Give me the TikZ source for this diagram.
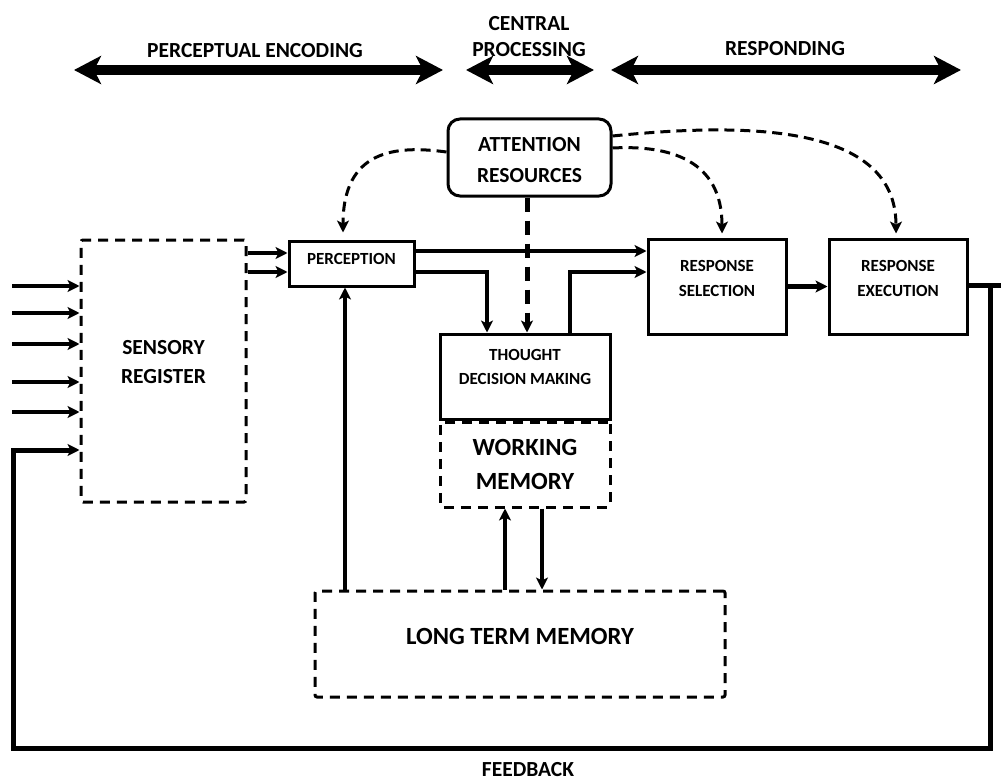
\documentclass[tikz,border=0pt]{standalone}
\usepackage{fontspec}
\setmainfont{Carlito}
\usetikzlibrary{arrows.meta}
\begin{document}
\begin{tikzpicture}[x=1pt,y=-1pt,
  every node/.style={font=\bfseries, inner sep=0pt},
  box/.style={draw, line width=3pt, inner sep=0pt},
  dbox/.style={draw, line width=3pt, dash pattern=on 10pt off 7pt, rounded corners=2pt, inner sep=0pt},
  tip/.style={-{Stealth[length=12pt,width=12pt,inset=3pt]}},
  flow/.style={line width=4pt, tip},
  thick flow/.style={line width=5pt, tip},
  attn/.style={line width=3pt, dash pattern=on 10pt off 6pt, tip},
  attnv/.style={line width=5pt, dash pattern=on 14pt off 9pt, tip},
  phase/.style={line width=10pt,
    {Stealth[length=27pt,width=28pt,inset=7pt]}-{Stealth[length=27pt,width=28pt,inset=7pt]}},
]
\useasboundingbox (0,0) rectangle (1001,781);

% stage arrows and headings
\coordinate (pe1) at (74,70);  \coordinate (pe2) at (443,70);
\coordinate (cp1) at (466,70); \coordinate (cp2) at (594,70);
\coordinate (rp1) at (611,70); \coordinate (rp2) at (961,70);
\draw[phase] (pe1) -- (pe2);
\draw[phase] (cp1) -- (cp2);
\draw[phase] (rp1) -- (rp2);
\node[font=\bfseries\fontsize{21.5}{26}\selectfont] (lpe) at (255,51) {PERCEPTUAL ENCODING};
\node[align=center, font=\bfseries\fontsize{21.5}{26}\selectfont] (lcp) at (529,37) {CENTRAL\\PROCESSING};
\node[font=\bfseries\fontsize{21.5}{26}\selectfont] (lrp) at (785,49) {RESPONDING};

% boxes
\node[dbox, minimum width=165, minimum height=262] (sens) at (163.5,371) {};
\node[align=center, font=\bfseries\fontsize{21.5}{29}\selectfont] (senst) at (163.5,362.5) {SENSORY\\REGISTER};

\node[box, minimum width=125, minimum height=45] (perc) at (351.5,263.5) {};
\node[font=\bfseries\fontsize{17}{24}\selectfont] (perct) at (351.5,259) {PERCEPTION};

\node[box, rounded corners=12pt, minimum width=163, minimum height=77] (att) at (529.5,157.5) {};
\node[align=center, font=\bfseries\fontsize{21.5}{31}\selectfont] (attt) at (529.5,160.5) {ATTENTION\\RESOURCES};

\node[box, minimum width=170, minimum height=85] (th) at (525,376.5) {};
\node[align=center, font=\bfseries\fontsize{17}{24}\selectfont] (tht) at (525,367) {THOUGHT\\DECISION MAKING};

\node[dbox, minimum width=170, minimum height=85] (wm) at (525,464.5) {};
\node[align=center, font=\bfseries\fontsize{24.7}{34}\selectfont] (wmt) at (525,464) {WORKING\\MEMORY};

\node[box, minimum width=138, minimum height=95] (rs) at (717,286.5) {};
\node[align=center, font=\bfseries\fontsize{17}{25}\selectfont] (rst) at (717,278.5) {RESPONSE\\SELECTION};

\node[box, minimum width=138, minimum height=95] (re) at (898,286.5) {};
\node[align=center, font=\bfseries\fontsize{17}{25}\selectfont] (ret) at (898,278.5) {RESPONSE\\EXECUTION};

\node[dbox, minimum width=410, minimum height=106] (ltm) at (520,644) {};
\node[font=\bfseries\fontsize{24.7}{34}\selectfont] (ltmt) at (520,636) {LONG TERM MEMORY};

\node[font=\bfseries\fontsize{21.5}{26}\selectfont] (fbt) at (528,770) {FEEDBACK};

% helper levels
\coordinate (y251) at (0,251);
\coordinate (y253) at (0,253);
\coordinate (y272) at (0,272);
\coordinate (y152) at (0,152);
\coordinate (y148) at (0,148);
\coordinate (y136) at (0,136);
\coordinate (x343) at (343,0);
\coordinate (x345) at (345,0);
\coordinate (x487) at (487,0);
\coordinate (x505) at (505,0);
\coordinate (x527) at (527,0);
\coordinate (x542) at (542,0);
\coordinate (x570) at (570,0);
\coordinate (x722) at (722,0);
\coordinate (x896) at (896,0);

% sensory inputs
\foreach \i/\yy in {1/286,2/313,3/344,4/382,5/412}{
  \coordinate (in\i) at (12,\yy);
  \draw[flow] (in\i) -- (in\i -| sens.west);
}

% main flow
\draw[flow] (sens.east |- y253) -- (perc.west |- y253);
\draw[flow] (sens.east |- y272) -- (perc.west |- y272);
\draw[flow] (perc.east |- y251) -- (rs.west |- y251);
\draw[flow] (perc.east |- y272) -| (x487 |- th.north);
\draw[flow] (x570 |- th.north) |- (rs.west |- y272);
\draw[thick flow] (rs.east) -- (re.west);

% memory links
\draw[flow] (ltm.north -| x345) -- (perc.south -| x345);
\draw[flow] (ltm.north -| x505) -- (wm.south -| x505);
\draw[flow] (wm.south -| x542) -- (ltm.north -| x542);

% attention
\draw[attnv] (att.south -| x527) -- (th.north -| x527);
\draw[attn, shorten >=7pt] (att.west |- y152) .. controls (395,145) and (343,150) .. (perc.north -| x343);
\draw[attn, shorten >=4pt] (att.east |- y148) .. controls (670,145) and (722,160) .. (rs.north -| x722);
\draw[attn, shorten >=4pt] (att.east |- y136) .. controls (750,122) and (896,125) .. (re.north -| x896);

% output and feedback loop
\coordinate (out) at (1001,285);
\coordinate (fbtop) at (990,285);
\coordinate (fbbr) at (990,748);
\coordinate (fbbl) at (13,748);
\coordinate (fbin) at (13,450);
\draw[line width=5pt] (re.east |- out) -- (out);
\draw[line width=5pt, tip] (fbtop) -- (fbbr) -- (fbbl) -- (fbin) -- (fbin -| sens.west);
\end{tikzpicture}
\end{document}
